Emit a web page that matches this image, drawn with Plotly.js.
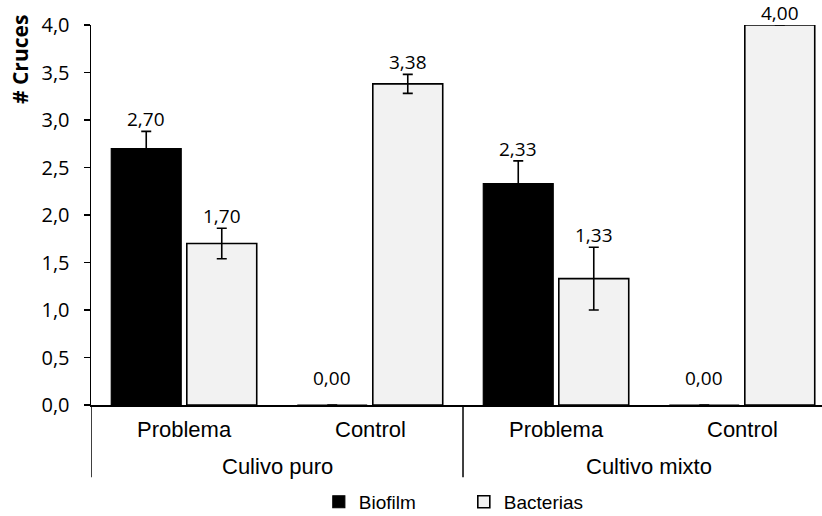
<!DOCTYPE html>
<html>
<head>
<meta charset="utf-8">
<script src="https://cdn.plot.ly/plotly-3.0.1.min.js"></script>
<style>
html, body { margin: 0; padding: 0; background: #ffffff; }
#chart { width: 822px; height: 516px; }
</style>
</head>
<body>
<div id="chart"></div>
<script>
// ---- data ----
var subCategories = ["Problema", "Control", "Problema", "Control"];
var groupLabels = ["Culivo puro", "Cultivo mixto"];
var seriesNames = ["Biofilm", "Bacterias"];
var biofilmValues = [2.70, 0.00, 2.33, 0.00];
var biofilmErrors = [0.18, 0.00, 0.24, 0.00];
var bacteriasValues = [1.70, 3.38, 1.33, 4.00];
var bacteriasErrors = [0.16, 0.10, 0.33, 0.00];
var yTickVals = [0, 0.5, 1, 1.5, 2, 2.5, 3, 3.5, 4];

// ---- layout helpers ----
var catPos = subCategories.map(function (_, i) { return i; });
var slotOffset = 0.203;
var numFont = "'Open Sans', 'Noto Sans', sans-serif";
var txtFont = "'Liberation Sans', Arial, sans-serif";

var traces = [
  {
    type: "bar", name: seriesNames[0], x: catPos, y: biofilmValues,
    marker: { color: "#000000", line: { color: "#000000", width: 1.2 } },
    error_y: { type: "data", array: biofilmErrors, visible: true, color: "#000000", thickness: 1.6, width: 5 },
    hoverinfo: "y"
  },
  {
    type: "bar", name: seriesNames[1], x: catPos, y: bacteriasValues,
    marker: { color: "#f2f2f2", line: { color: "#000000", width: 1.6 } },
    error_y: { type: "data", array: bacteriasErrors, visible: true, color: "#000000", thickness: 1.6, width: 5 },
    hoverinfo: "y"
  }
];

function fmt(v) { return v.toFixed(2).replace(".", ","); }

var annotations = [];
[[biofilmValues, biofilmErrors, -slotOffset], [bacteriasValues, bacteriasErrors, slotOffset]].forEach(function (s) {
  s[0].forEach(function (v, i) {
    annotations.push({
      xref: "x", yref: "y", x: catPos[i] + s[2], y: v + s[1][i],
      text: fmt(v), showarrow: false, xanchor: "center", yanchor: "bottom",
      yshift: v === 0 ? 12 : -3,
      font: { family: numFont, size: 19, color: "#000000" }
    });
  });
});
subCategories.forEach(function (c, i) {
  annotations.push({
    xref: "x", yref: "paper", x: catPos[i], y: 0, yanchor: "top", yshift: -10,
    text: c, showarrow: false, font: { family: txtFont, size: 22, color: "#000000" }
  });
});
groupLabels.forEach(function (g, k) {
  annotations.push({
    xref: "x", yref: "paper", x: 2 * k + 0.5, y: 0, yanchor: "top", yshift: -47,
    text: g, showarrow: false, font: { family: txtFont, size: 22, color: "#000000" }
  });
});
annotations.push({
  xref: "paper", yref: "paper", x: -0.097, y: 0.908, xanchor: "center", yanchor: "middle",
  text: "<b># Cruces</b>", textangle: -90, showarrow: false,
  font: { family: numFont, size: 21, color: "#000000" }
});

var shapes = [];
for (var k = 0; k <= groupLabels.length; k++) {
  shapes.push({
    type: "line", xref: "x", yref: "paper", x0: 2 * k - 0.5, x1: 2 * k - 0.5, y0: 0, y1: -0.19,
    line: { color: "#000000", width: 1.5 }
  });
}

var layout = {
  width: 822, height: 516,
  margin: { l: 91, r: 0, t: 25, b: 111, pad: 0, autoexpand: false },
  paper_bgcolor: "#ffffff", plot_bgcolor: "#ffffff",
  separators: ",.",
  barmode: "group", bargap: 0.188, bargroupgap: 0.074,
  showlegend: true,
  legend: {
    orientation: "h", x: 0.51, xanchor: "center", y: -0.255, yanchor: "middle",
    font: { family: txtFont, size: 19, color: "#000000" },
    entrywidth: 100, entrywidthmode: "pixels", itemclick: false
  },
  xaxis: {
    range: [-0.5, 3.43], showgrid: false, zeroline: false,
    showline: true, linecolor: "#000000", linewidth: 1.5,
    ticks: "", showticklabels: false, fixedrange: true
  },
  yaxis: {
    range: [0, 4], tickvals: yTickVals, tickformat: ".1f",
    showgrid: false, zeroline: false, showline: true, linecolor: "#000000", linewidth: 1.5,
    ticks: "outside", ticklen: 6, tickcolor: "#000000", tickwidth: 1.5, ticklabelstandoff: 10,
    tickfont: { family: numFont, size: 20, color: "#000000" }, fixedrange: true
  },
  annotations: annotations,
  shapes: shapes
};

Plotly.newPlot("chart", traces, layout, { displayModeBar: false, staticPlot: true });
</script>
</body>
</html>
